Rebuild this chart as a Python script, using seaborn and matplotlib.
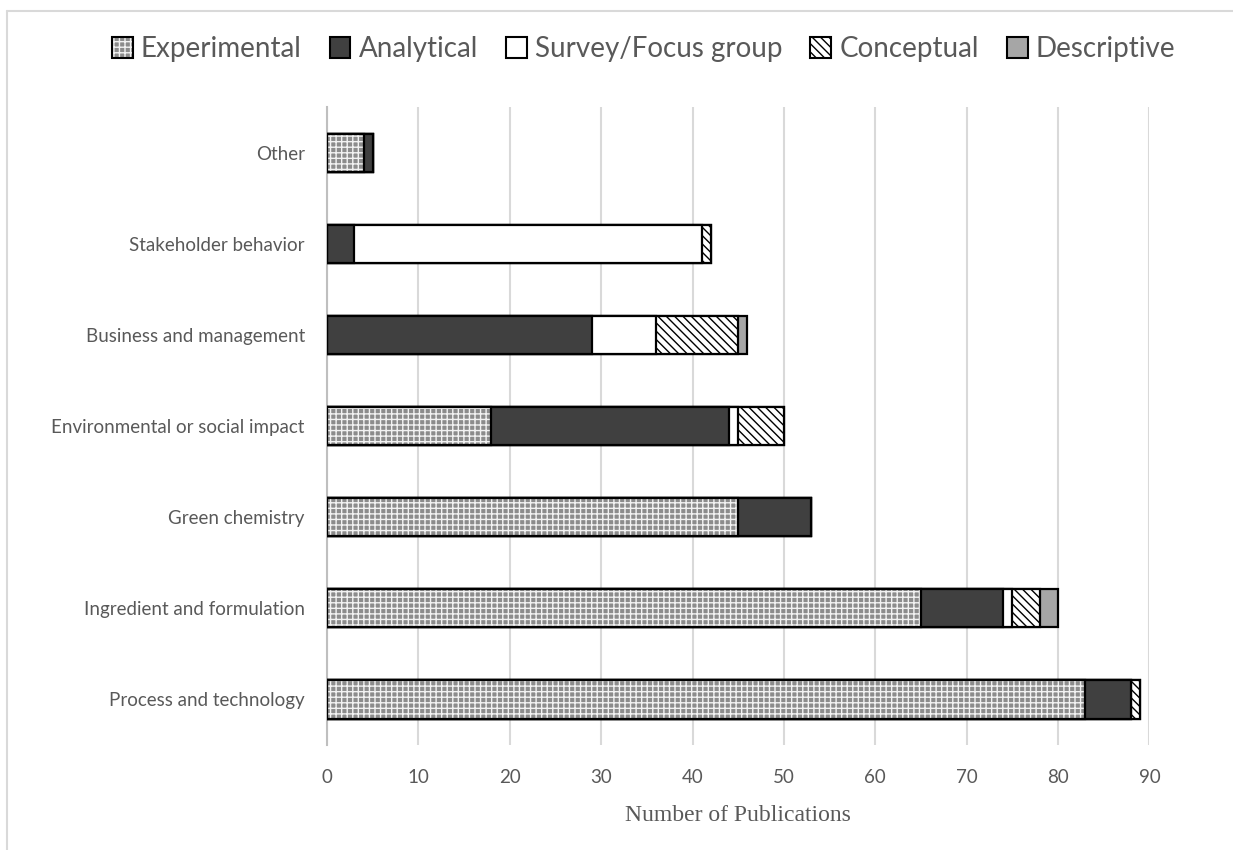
import matplotlib
matplotlib.use("Agg")
import matplotlib.pyplot as plt
from matplotlib.patches import Patch
from matplotlib.lines import Line2D
import numpy as np
import pandas as pd
import seaborn as sns

# Research themes (top to bottom) and publication counts per study type
categories = [
    "Other",
    "Stakeholder behavior",
    "Business and management",
    "Environmental or social impact",
    "Green chemistry",
    "Ingredient and formulation",
    "Process and technology",
]
experimental = [4, 0, 0, 18, 45, 65, 83]
analytical = [1, 3, 29, 26, 8, 9, 5]
survey = [0, 38, 7, 1, 0, 1, 0]
conceptual = [0, 1, 9, 5, 0, 3, 1]
descriptive = [0, 0, 1, 0, 0, 2, 0]

series_names = ["Experimental", "Analytical", "Survey/Focus group", "Conceptual", "Descriptive"]
series_values = [experimental, analytical, survey, conceptual, descriptive]
x_ticks = [0, 10, 20, 30, 40, 50, 60, 70, 80, 90]

styles = {
    "Experimental": dict(face="#8c8c8c", hatch="+++", hcol="#f2f2f2"),
    "Analytical": dict(face="#404040", hatch=None, hcol="black"),
    "Survey/Focus group": dict(face="white", hatch=None, hcol="black"),
    "Conceptual": dict(face="white", hatch="\\\\\\\\", hcol="black"),
    "Descriptive": dict(face="#a6a6a6", hatch=None, hcol="black"),
}

sns.set_theme(style="white")
plt.rcParams["font.family"] = ["Lato", "DejaVu Sans"]
plt.rcParams["hatch.linewidth"] = 1.0

text_col = "#595959"
cum = np.cumsum(np.array(series_values), axis=0)

fig = plt.figure(figsize=(12.33, 8.5), dpi=100)
ax = fig.add_axes([0.2652, 0.1235, 0.6670, 0.7505])

bar_w = 0.42
# Stacked bars: draw cumulative totals from the outermost segment inward
for i in reversed(range(len(series_names))):
    name = series_names[i]
    st = styles[name]
    df = pd.DataFrame({"cat": categories, "val": cum[i]})
    n_before = len(ax.patches)
    sns.barplot(data=df, x="val", y="cat", orient="h", order=categories,
                color=st["face"], saturation=1, width=bar_w, ax=ax,
                edgecolor=st["hcol"] if st["hatch"] else "black",
                linewidth=0 if name == "Experimental" else 1.6, zorder=3)
    for p in ax.patches[n_before:]:
        p.set_facecolor(st["face"])
        if st["hatch"]:
            p.set_hatch(st["hatch"])
    if name == "Experimental":
        # black outline over the hatched segment
        df0 = pd.DataFrame({"cat": categories, "val": cum[0]})
        sns.barplot(data=df0, x="val", y="cat", orient="h", order=categories,
                    fill=False, width=bar_w, ax=ax, edgecolor="black",
                    linewidth=1.6, zorder=4)

ax.set_xlim(0, 90)
ax.set_xticks(x_ticks)
ax.set_xticklabels([str(t) for t in x_ticks])
ax.set_ylim(len(categories) - 0.5, -0.5)
ax.set_ylabel("")
ax.set_xlabel("Number of Publications", family="Liberation Serif",
              fontsize=17, color=text_col, labelpad=14)
ax.tick_params(axis="x", length=0, pad=17, labelsize=13.5, labelcolor=text_col)
ax.tick_params(axis="y", length=0, pad=16, labelsize=13.5, labelcolor=text_col)
ax.grid(axis="x", color="#d9d9d9", linewidth=1.5, zorder=0)
ax.grid(axis="y", visible=False)
for s in ["top", "right", "bottom"]:
    ax.spines[s].set_visible(False)
ax.spines["left"].set_color("#bfbfbf")
ax.spines["left"].set_linewidth(1.5)
ax.spines["left"].set_zorder(2)
ax.set_axisbelow(True)

handles = []
for name in series_names:
    st = styles[name]
    if name == "Experimental":
        fillp = Patch(facecolor=st["face"], edgecolor=st["hcol"], hatch=st["hatch"],
                      linewidth=0)
        edgep = Patch(facecolor="none", edgecolor="black", linewidth=1.5)
        handles.append((fillp, edgep))
    else:
        handles.append(Patch(facecolor=st["face"], edgecolor="black", hatch=st["hatch"],
                             linewidth=1.5))
leg = fig.legend(handles=handles, labels=series_names, loc="center",
                 bbox_to_anchor=(0.522, 0.942),
                 ncol=5, frameon=False, fontsize=20, handlelength=0.75,
                 handleheight=0.75, handletextpad=0.3, columnspacing=1.0)
for t in leg.get_texts():
    t.set_color(text_col)

# chart area border (left and top edges)
fig.add_artist(Line2D([7 / 1233, 7 / 1233], [0, 1 - 11 / 850], transform=fig.transFigure,
                      color="#d9d9d9", linewidth=1.5))
fig.add_artist(Line2D([7 / 1233, 1], [1 - 11 / 850, 1 - 11 / 850], transform=fig.transFigure,
                      color="#d9d9d9", linewidth=1.5))

fig.savefig("out.png", dpi=100, facecolor="white")
